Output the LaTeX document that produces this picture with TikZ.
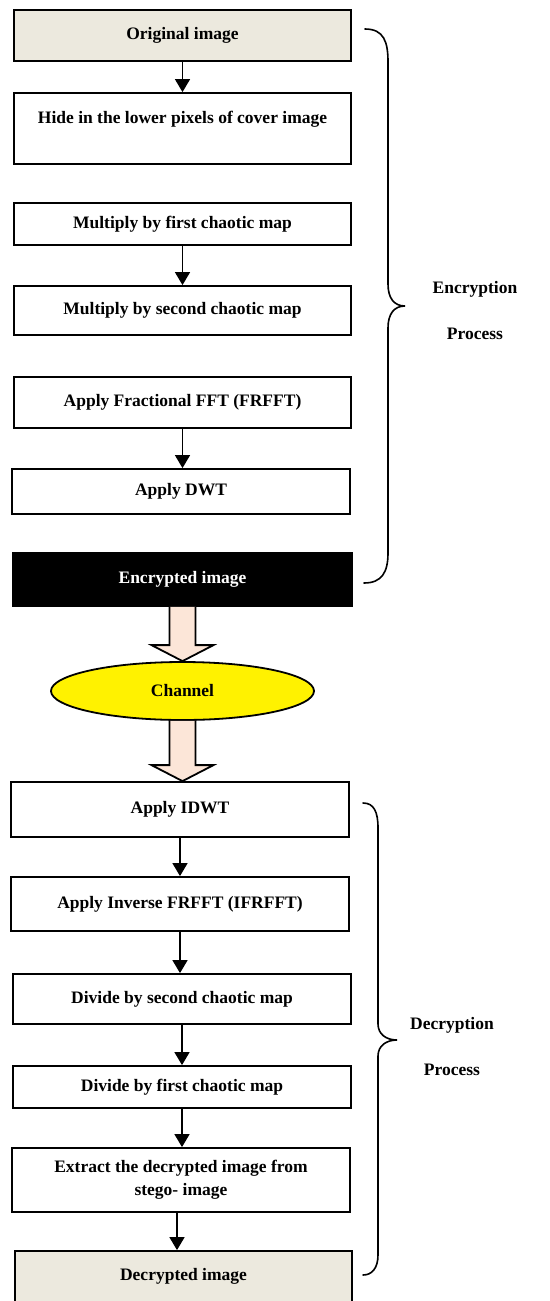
\documentclass[tikz,border=0pt]{standalone}
\usepackage{fontspec}
\setmainfont{Liberation Serif}
\usetikzlibrary{arrows.meta}
\usetikzlibrary{shapes.geometric}
\usetikzlibrary{calc}
\definecolor{paper}{HTML}{ECE9DE}
\definecolor{peach}{HTML}{FCE6D8}
\newcommand{\lblfont}{\fontsize{17.5}{23}\selectfont\bfseries}

\begin{document}
\begin{tikzpicture}[x=1pt,y=-1pt,
        stage/.style={draw,line width=1.8pt,minimum width=337,inner sep=0pt,align=center,font=\lblfont},
        tag/.style={inner sep=0pt,font=\lblfont},
        flow/.style={line width=1.4pt,-{Triangle[width=15pt,length=13pt]}},
        fat/.style={draw,line width=1.8pt,fill=peach,line join=miter},
        curly/.style={line width=1.6pt,line cap=round}]
        \clip (0,0) rectangle (549,1301);
        % encryption side
        \node[stage,fill=paper,minimum height=51] (orig) at (182.5,35.5) {Original image};
        \node[stage,minimum height=71] (hide) at (182.5,128.5) {Hide in the lower pixels of cover image\\\mbox{}};
        \node[stage,minimum height=42] (mulA) at (182.5,224) {Multiply by first chaotic map};
        \node[stage,minimum height=49] (mulB) at (182.5,310.5) {Multiply by second chaotic map};
        \node[stage,minimum height=51] (frfft) at (182.5,402.5) {Apply Fractional FFT (FRFFT)};
        \node[stage,minimum width=338,minimum height=45] (dwt) at (181,491.5) {Apply DWT};
        \node[stage,fill=black,text=white,minimum width=339,minimum height=53] (enc) at (182.5,579.5) {Encrypted image};
        \node[draw,ellipse,fill=yellow,line width=1.8pt,minimum width=263,minimum height=58,inner sep=0pt,font=\lblfont] (chan) at (182.5,691) {Channel};
        % decryption side
        \node[stage,minimum width=338,minimum height=55] (idwt) at (180,809.5) {Apply IDWT};
        \node[stage,minimum width=338,minimum height=54] (ifrfft) at (180,904) {Apply Inverse FRFFT (IFRFFT)};
        \node[stage,minimum width=338,minimum height=50] (divB) at (182,999) {Divide by second chaotic map};
        \node[stage,minimum width=338,minimum height=42] (divA) at (182,1087) {Divide by first chaotic map};
        \node[stage,minimum width=338,minimum height=64] (extr) at (181,1180) {Extract the decrypted image from\\stego- image};
        \node[stage,fill=paper,minimum height=69] (dec) at (183.5,1285.5) {Decrypted image\\\mbox{}};
        % arrows
        \draw[flow] (orig.south) -- (orig.south |- hide.north);
        \draw[flow] (mulA.south) -- (mulA.south |- mulB.north);
        \draw[flow] (frfft.south) -- (frfft.south |- dwt.north);
        \draw[flow] (idwt.south) -- (idwt.south |- ifrfft.north);
        \draw[flow] (ifrfft.south) -- (ifrfft.south |- divB.north);
        \draw[flow] (divB.south) -- (divB.south |- divA.north);
        \draw[flow] (divA.south) -- (divA.south |- extr.north);
        \coordinate (exOut) at ($(extr.south)+(-4,0)$);
        \draw[flow] (exOut) -- (exOut |- dec.north);
        \coordinate (tipB) at (chan.south |- idwt.north);
        \draw[fat] ($(enc.south)+(-13,0)$) -- ($(chan.north)+(-13,-16)$) -- ($(chan.north)+(-31,-16)$) -- (chan.north)
            -- ($(chan.north)+(31,-16)$) -- ($(chan.north)+(13,-16)$) -- ($(enc.south)+(13,0)$);
        \draw[fat] ($(chan.south)+(-13,0)$) -- ($(tipB)+(-13,-16)$) -- ($(tipB)+(-31,-16)$) -- (tipB)
            -- ($(tipB)+(31,-16)$) -- ($(tipB)+(13,-16)$) -- ($(chan.south)+(13,0)$);
        % braces
        \draw[curly] (365,29) .. controls (384,29) and (388,42) .. (388,62) -- (388,284)
            .. controls (388,298) and (394,306) .. (405,306) .. controls (394,306) and (388,314) .. (388,328)
            -- (388,553) .. controls (388,572) and (382,583) .. (364,583);
        \draw[curly] (363,803) .. controls (374,803) and (378,812) .. (378,828) -- (378,1024)
            .. controls (378,1034) and (386,1040) .. (397,1040) .. controls (386,1040) and (378,1046) .. (378,1056)
            -- (378,1255) .. controls (378,1268) and (372,1275) .. (363,1275);
        \node[tag] (encA) at (475,289) {Encryption};
        \node[tag] (encB) at (475,334) {Process};
        \node[tag] (decA) at (452,1025) {Decryption};
        \node[tag] (decB) at (452,1070) {Process};
    \end{tikzpicture}
\end{document}
